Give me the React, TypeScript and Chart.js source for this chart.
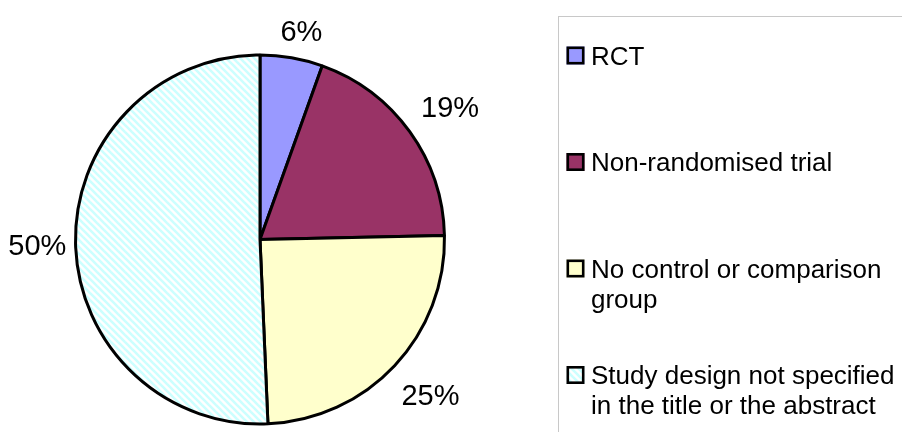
import React, { useEffect, useRef } from "react";
import { Chart, registerables } from "chart.js";

Chart.register(...registerables);

// ---- data ----
const categories = [
  "RCT",
  "Non-randomised trial",
  "No control or comparison group",
  "Study design not specified in the title or the abstract",
];
const legendLines = [
  ["RCT"],
  ["Non-randomised trial"],
  ["No control or comparison", "group"],
  ["Study design not specified", "in the title or the abstract"],
];
const studyCounts = [4, 14, 18, 37];
const percentLabels = ["6%", "19%", "25%", "50%"];
const sliceColors = ["#9999FF", "#993366", "#FFFFCC", "#CCFFFF"];
const hatchedSlice = [false, false, false, true];

const FONT = '"Liberation Sans", Arial, Helvetica, sans-serif';

function makeHatch(ctxRef: CanvasRenderingContext2D, color: string): CanvasPattern | string {
  const s = 7;
  const c = document.createElement("canvas");
  c.width = s;
  c.height = s;
  const g = c.getContext("2d");
  if (!g) return color;
  g.fillStyle = "#ffffff";
  g.fillRect(0, 0, s, s);
  g.strokeStyle = color;
  g.lineWidth = 2.6;
  for (const k of [-s, 0, s]) {
    g.beginPath();
    g.moveTo(k - 1, -1);
    g.lineTo(k + s + 1, s + 1);
    g.stroke();
  }
  return ctxRef.createPattern(c, "repeat") || color;
}

export default function App() {
  const ref = useRef<HTMLCanvasElement>(null);

  useEffect(() => {
    const canvas = ref.current;
    if (!canvas) return;
    const ctx0 = canvas.getContext("2d")!;
    const fills = sliceColors.map((c, i) => (hatchedSlice[i] ? makeHatch(ctx0, c) : c));

    const LABEL_SIZE = 29;
    const GAP = 14;
    const SHIFT_X = 5;

    const labelPlugin = {
      id: "pctLabels",
      afterDatasetsDraw(chart: any) {
        const ctx = chart.ctx as CanvasRenderingContext2D;
        const meta = chart.getDatasetMeta(0);
        ctx.save();
        ctx.font = `${LABEL_SIZE}px ${FONT}`;
        ctx.fillStyle = "#000";
        ctx.textAlign = "center";
        ctx.textBaseline = "alphabetic";
        meta.data.forEach((arc: any, i: number) => {
          const p = arc.getProps(["x", "y", "startAngle", "endAngle", "outerRadius"], true);
          const mid = (p.startAngle + p.endAngle) / 2;
          const text = percentLabels[i];
          const w = ctx.measureText(text).width;
          const h = LABEL_SIZE * 0.716;
          const cs = Math.cos(mid);
          const sn = Math.sin(mid);
          const ext = Math.abs((w / 2) * cs) + Math.abs((h / 2) * sn);
          const d = p.outerRadius + GAP + ext;
          const cx = p.x + d * cs + SHIFT_X;
          const cy = p.y + d * sn;
          ctx.fillText(text, cx, cy + h / 2);
        });
        ctx.restore();
      },
    };

    const legendPlugin = {
      id: "sideLegend",
      afterDraw(chart: any) {
        const ctx = chart.ctx as CanvasRenderingContext2D;
        const boxLeft = 558;
        const boxTop = 16;
        const size = 26;
        ctx.save();
        ctx.strokeStyle = "#c8c8c8";
        ctx.lineWidth = 1;
        ctx.strokeRect(boxLeft + 0.5, boxTop + 0.5, 400, 500);
        ctx.font = `${size}px ${FONT}`;
        ctx.textAlign = "left";
        ctx.textBaseline = "alphabetic";
        const firstY = boxTop + 39.5;
        const step = 106.5;
        const lineH = 30;
        legendLines.forEach((lines, i) => {
          const cy = firstY + step * i;
          const mx = boxLeft + 8.5;
          const ms = 18;
          ctx.fillStyle = fills[i] as any;
          ctx.fillRect(mx, cy - ms / 2, ms, ms);
          ctx.strokeStyle = "#000";
          ctx.lineWidth = 2.6;
          ctx.strokeRect(mx + 1.3, cy - ms / 2 + 1.3, ms - 2.6, ms - 2.6);
          ctx.fillStyle = "#000";
          lines.forEach((ln, j) => {
            ctx.fillText(ln, boxLeft + 33, cy + size * 0.358 + j * lineH);
          });
        });
        ctx.restore();
      },
    };

    const chart = new Chart(canvas, {
      type: "pie",
      data: {
        labels: categories,
        datasets: [
          {
            data: studyCounts,
            backgroundColor: fills as any,
            borderColor: "#000000",
            borderWidth: 3,
          },
        ],
      },
      options: {
        responsive: false,
        animation: false,
        devicePixelRatio: 1,
        layout: { padding: { left: 74, right: 456, top: 53.5, bottom: 6.5 } },
        plugins: {
          legend: { display: false },
          tooltip: { enabled: false },
        },
      },
      plugins: [labelPlugin, legendPlugin],
    });
    return () => chart.destroy();
  }, []);

  return (
    <div style={{ position: "absolute", left: 0, top: 0, width: 902, height: 432, background: "#fff" }}>
      <canvas ref={ref} width={902} height={432} style={{ display: "block" }} />
    </div>
  );
}
